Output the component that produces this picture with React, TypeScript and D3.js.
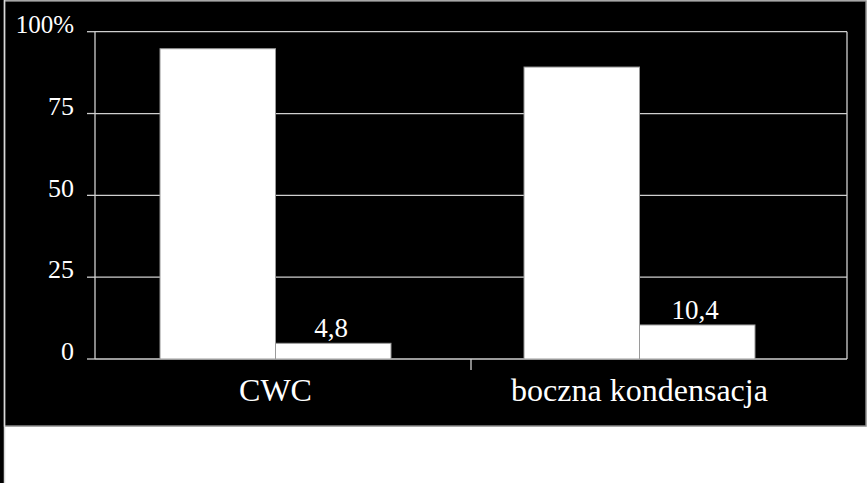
import React from "react";
import * as d3 from "d3";

const categories = ["CWC", "boczna kondensacja"];
const seriesNames = ["a", "b"];
const seriesA = [94.8, 89.2];
const seriesB = [4.8, 10.4];
const yTicks = [0, 25, 50, 75, 100];
const yTickLabels = ["0", "25", "50", "75", "100%"];

const W = 868;
const H = 483;
const FONT = "Liberation Serif, Tinos, Times New Roman, DejaVu Serif, serif";

export default function App() {
  const plotL = 95;
  const plotR = 847;
  const plotT = 31.7;
  const plotB = 359;

  const y = d3.scaleLinear().domain([0, 100]).range([plotB, plotT]);
  const xAxis = d3.scaleBand<string>().domain(categories).range([plotL, plotR]);
  const xGroup = d3.scaleBand<string>().domain(categories).range([93.5, 821.5]);
  const xSeries = d3
    .scaleBand<string>()
    .domain(seriesNames)
    .range([0, xGroup.bandwidth()])
    .paddingInner(0)
    .paddingOuter(0.576);

  const rows = categories.map((c, i) => ({ c, vals: [seriesA[i], seriesB[i]] }));
  const txt = { fontFamily: FONT, fill: "#fff" } as React.CSSProperties;

  return (
    <>
      <style>{`body{margin:0;background:#fff} svg text{font-family:"Liberation Serif","Tinos","Times New Roman","DejaVu Serif",serif;}`}</style>
      <svg width={W} height={H} style={{ display: "block" }}>
        <rect x={0} y={0} width={W} height={H} fill="#ffffff" />
        <rect x={0} y={0} width={4} height={H} fill="#000" />
        <rect x={4.5} y={1} width={861.5} height={425} fill="#000" stroke="#8a8a8a" strokeWidth={1.5} />
        <line x1={4.5} x2={4.5} y1={0} y2={H} stroke="#d8d8d8" strokeWidth={1.5} />

        {yTicks.map((t) => (
          <line key={"g" + t} x1={plotL} x2={plotR} y1={y(t)} y2={y(t)} stroke="#cfcfcf" strokeWidth={1.3} />
        ))}
        {yTicks.map((t) => (
          <line key={"t" + t} x1={87} x2={plotL} y1={y(t)} y2={y(t)} stroke="#cfcfcf" strokeWidth={1.3} />
        ))}
        <line x1={plotL} x2={plotL} y1={plotT} y2={plotB} stroke="#cfcfcf" strokeWidth={1.3} />
        <line x1={plotR} x2={plotR} y1={plotT} y2={plotB} stroke="#cfcfcf" strokeWidth={1.3} />
        {categories.slice(1).map((c) => (
          <line
            key={"ct" + c}
            x1={xAxis(c)!}
            x2={xAxis(c)!}
            y1={plotB}
            y2={plotB + 11}
            stroke="#cfcfcf"
            strokeWidth={1.3}
          />
        ))}

        {rows.map((r) =>
          r.vals.map((v, j) => {
            const x0 = xGroup(r.c)! + xSeries(seriesNames[j])!;
            return (
              <rect
                key={r.c + j}
                x={x0}
                y={y(v)}
                width={xSeries.bandwidth()}
                height={y(0) - y(v)}
                fill="#ffffff"
                stroke="#9a9a9a"
                strokeWidth={1}
              />
            );
          })
        )}

        {rows.map((r) => {
          const v = r.vals[1];
          const cx = xGroup(r.c)! + xSeries(seriesNames[1])! + xSeries.bandwidth() / 2;
          return (
            <text key={"vl" + r.c} x={cx - 2} y={y(v) - 6} style={txt} fontSize={27} textAnchor="middle">
              {String(v).replace(".", ",")}
            </text>
          );
        })}

        {yTicks.map((t, i) => (
          <text
            key={"yl" + t}
            x={74}
            y={y(t) + 1.3}
            style={txt}
            fontSize={t === 100 ? 25 : 26}
            textAnchor="end"
          >
            {yTickLabels[i]}
          </text>
        ))}

        {categories.map((c) => (
          <text
            key={"cl" + c}
            x={xGroup(c)! + xGroup.bandwidth() / 2}
            y={401}
            style={txt}
            fontSize={32}
            textAnchor="middle"
          >
            {c}
          </text>
        ))}
      </svg>
    </>
  );
}
